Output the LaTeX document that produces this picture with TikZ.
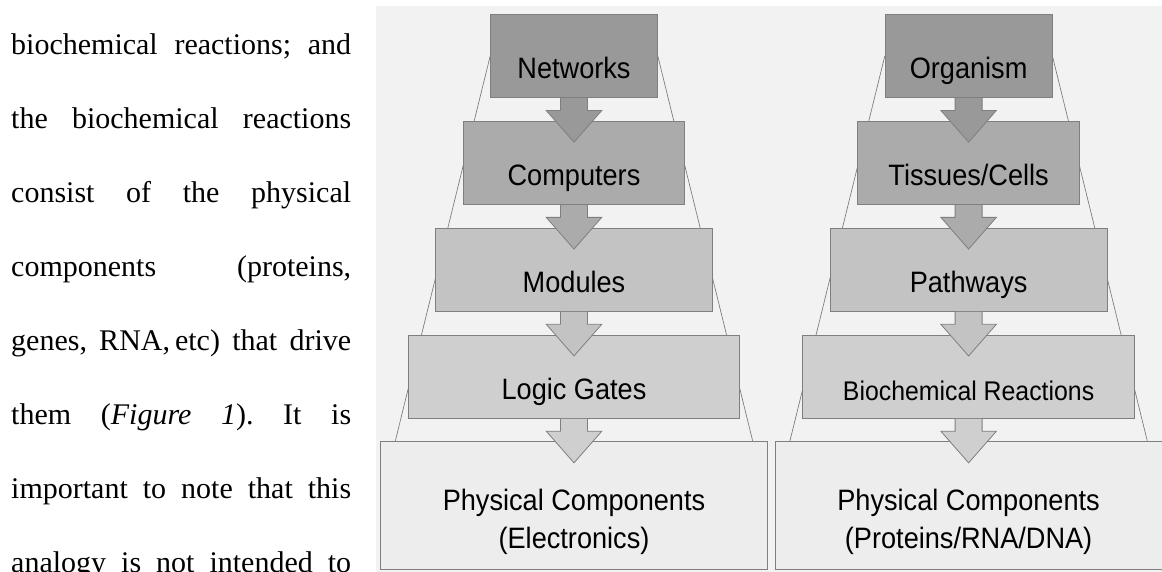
\documentclass[tikz,border=0pt]{standalone}
\usepackage{fontspec}
\setmainfont{Liberation Serif}
\newfontfamily\stackfont[FakeStretch=0.92]{Liberation Sans}
\usetikzlibrary{calc}
\definecolor{StackPanel}{HTML}{F2F2F2}
\definecolor{StackEdge}{HTML}{7F7F7F}
\definecolor{StackOne}{HTML}{999999}
\definecolor{StackTwo}{HTML}{ABABAB}
\definecolor{StackThree}{HTML}{C3C3C3}
\definecolor{StackFour}{HTML}{CFCFCF}
\definecolor{StackFive}{HTML}{EDEDED}
\pgfdeclarelayer{background}
\pgfsetlayers{background,main}
\frenchspacing

\begin{document}
\begin{tikzpicture}[x=1pt,y=-1pt,
  level/.style={draw=StackEdge,line width=0.9pt,minimum height=83.4pt,inner sep=0pt},
  lbl/.style={anchor=base,inner sep=0pt,font=\stackfont\fontsize{29.5}{32}\selectfont},
  body/.style={anchor=base west,inner sep=0pt,font=\fontsize{30}{36}\selectfont},
  flow/.style={draw=StackEdge,line width=0.8pt},
  rim/.style={StackEdge,line width=0.7pt}]
  \useasboundingbox (0,0) rectangle (1162,571);

  % running text of the page
  \foreach \txt [count=\i] in {
      {biochemical reactions; and},
      {the biochemical reactions},
      {consist of the physical},
      {components (proteins,},
      {genes, RNA,\,etc) that drive},
      {them (\textit{Figure 1}). It is},
      {important to note that this},
      {analogy is not intended to}}
    \node[body] (line\i) at (11,{54+74*(\i-1)}) {\makebox[340pt][s]{\txt}};

  % electronics stack
  \node[level,fill=StackOne,minimum width=166.7pt] (net) at (574,56) {};
  \node[level,fill=StackTwo,minimum width=221.7pt] (comp) at (574,162.9) {};
  \node[level,fill=StackThree,minimum width=276.7pt] (mod) at (574,269.8) {};
  \node[level,fill=StackFour,minimum width=331.7pt] (gate) at (574,376.7) {};
  \node[level,fill=StackFive,minimum width=386.7pt,minimum height=127.4pt] (elec) at (574,505.6) {};

  % biology stack
  \node[level,fill=StackOne,minimum width=166.7pt] (org) at (968.6,56) {};
  \node[level,fill=StackTwo,minimum width=221.7pt] (tis) at (968.6,162.9) {};
  \node[level,fill=StackThree,minimum width=276.7pt] (path) at (968.6,269.8) {};
  \node[level,fill=StackFour,minimum width=331.7pt] (react) at (968.6,376.7) {};
  \node[level,fill=StackFive,minimum width=386.7pt,minimum height=127.4pt] (mol) at (968.6,505.6) {};

  \begin{pgfonlayer}{background}
    \fill[StackPanel] (376,6) rectangle (1163,572);
    \draw[rim] (net.west) -- ($(elec.north west)+(15,0)$);
    \draw[rim] (net.east) -- ($(elec.north east)+(-15,0)$);
    \draw[rim] (org.west) -- ($(mol.north west)+(15,0)$);
    \draw[rim] (org.east) -- ($(mol.north east)+(-15,0)$);
  \end{pgfonlayer}

  % block arrows between levels
  \foreach \a/\c in {net/StackOne,comp/StackTwo,mod/StackThree,gate/StackFour,
                     org/StackOne,tis/StackTwo,path/StackThree,react/StackFour}
    \draw[flow,fill=\c] ($(\a.south)+(-13.5,0)$) -- ++(0,12.3) -- ++(-14.3,0)
      -- ($(\a.south)+(0,44)$) -- ($(\a.south)+(27.8,12.3)$) -- ++(-14.3,0) -- ++(0,-12.3);

  \node[lbl] (netT) at ($(net.north)+(0,64.5)$) {Networks};
  \node[lbl] (compT) at ($(comp.north)+(0,64.5)$) {Computers};
  \node[lbl] (modT) at ($(mod.north)+(0,64.5)$) {Modules};
  \node[lbl] (gateT) at ($(gate.north)+(0,64.5)$) {Logic Gates};
  \node[lbl] (elecA) at ($(elec.north)+(0,69)$) {Physical Components};
  \node[lbl] (elecB) at ($(elec.north)+(0,106.6)$) {(Electronics)};

  \node[lbl] (orgT) at ($(org.north)+(0,64.5)$) {Organism};
  \node[lbl] (tisT) at ($(tis.north)+(0,64.5)$) {Tissues/Cells};
  \node[lbl] (pathT) at ($(path.north)+(0,64.5)$) {Pathways};
  \node[lbl,font=\stackfont\fontsize{27}{30}\selectfont] (reactT) at ($(react.north)+(0,65.5)$) {Biochemical Reactions};
  \node[lbl] (molA) at ($(mol.north)+(0,69)$) {Physical Components};
  \node[lbl] (molB) at ($(mol.north)+(0,106.6)$) {(Proteins/RNA/DNA)};
\end{tikzpicture}
\end{document}
